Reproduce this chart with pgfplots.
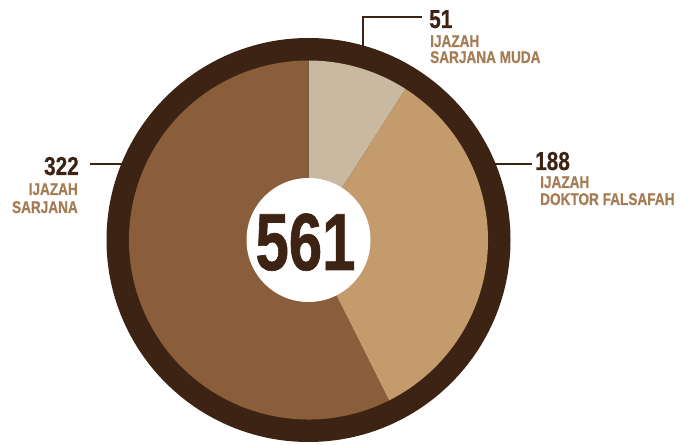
\documentclass[border=0pt]{standalone}
\usepackage{pgfplots}
\pgfplotsset{compat=1.18}
\usepackage{pgfplotstable}
\usepackage{fontspec}
\newfontfamily\labfont[FakeStretch=0.8,FakeBold=0.7]{Liberation Sans Bold}
\newfontfamily\numfont[FakeStretch=0.8,FakeBold=0.5]{Liberation Sans Bold}
\newfontfamily\bigfont[FakeStretch=0.74,FakeBold=0.8]{Liberation Sans Bold}
\definecolor{ring}{HTML}{3C2314}
\definecolor{cA}{HTML}{C8B9A0}
\definecolor{cB}{HTML}{C49B6D}
\definecolor{cC}{HTML}{8A5D3B}
\definecolor{labc}{HTML}{A67C55}
\pgfplotstableread{
label value
SarjanaMuda 51
DoktorFalsafah 188
Sarjana 322
}\piedata
\begin{document}
\begin{tikzpicture}
\pgfplotstablegetelem{0}{value}\of\piedata\edef\va{\pgfplotsretval}
\pgfplotstablegetelem{1}{value}\of\piedata\edef\vb{\pgfplotsretval}
\pgfplotstablegetelem{2}{value}\of\piedata\edef\vc{\pgfplotsretval}
\pgfmathsetmacro\tot{\va+\vb+\vc}
\pgfmathsetmacro\aA{90}
\pgfmathsetmacro\aB{90-360*(\va/\tot)}
\pgfmathsetmacro\aC{\aB-360*(\vb/\tot)}
\pgfmathsetmacro\aD{\aC-360*(\vc/\tot)}
\begin{axis}[scale only axis, width=681pt, height=444pt,
  xmin=0, xmax=681, ymin=0, ymax=444, hide axis, clip=false]
\addplot[draw=none] coordinates {(0,0) (681,444)};
\fill[ring] (axis cs:308.5,204) circle[radius=202pt];
\fill[cA] (axis cs:308.5,204) -- ++(\aA:179.5pt) arc[start angle=\aA, end angle=\aB, radius=179.5pt] -- cycle;
\fill[cB] (axis cs:308.5,204) -- ++(\aB:179.5pt) arc[start angle=\aB, end angle=\aC, radius=179.5pt] -- cycle;
\fill[cC] (axis cs:308.5,204) -- ++(\aC:179.5pt) arc[start angle=\aC, end angle=\aD, radius=179.5pt] -- cycle;
\fill[white] (axis cs:308.5,204) circle[radius=62pt];
% leader lines
\draw[ring, line width=1.3pt] (axis cs:363,398) -- (axis cs:363,427) -- (axis cs:422,427);
\draw[ring, line width=1.3pt] (axis cs:90,280) -- (axis cs:123,280);
\draw[ring, line width=1.3pt] (axis cs:495,280) -- (axis cs:532,280);
% labels
\node[anchor=base west, inner sep=0pt, text=ring, font=\numfont\fontsize{26}{26}\selectfont] at (axis cs:429,416) {\va};
\node[anchor=base west, inner sep=0pt, text=labc, font=\labfont\fontsize{17}{17}\selectfont] at (axis cs:430,397) {IJAZAH};
\node[anchor=base west, inner sep=0pt, text=labc, font=\labfont\fontsize{17}{17}\selectfont] at (axis cs:430,381) {SARJANA MUDA};
\node[anchor=base east, inner sep=0pt, text=ring, font=\numfont\fontsize{26}{26}\selectfont] at (axis cs:79,269) {\vc};
\node[anchor=base east, inner sep=0pt, text=labc, font=\labfont\fontsize{17}{17}\selectfont] at (axis cs:78,249) {IJAZAH};
\node[anchor=base east, inner sep=0pt, text=labc, font=\labfont\fontsize{17}{17}\selectfont] at (axis cs:78,231) {SARJANA};
\node[anchor=base west, inner sep=0pt, text=ring, font=\numfont\fontsize{26}{26}\selectfont] at (axis cs:535,274) {\vb};
\node[anchor=base west, inner sep=0pt, text=labc, font=\labfont\fontsize{17}{17}\selectfont] at (axis cs:540,256) {IJAZAH};
\node[anchor=base west, inner sep=0pt, text=labc, font=\labfont\fontsize{17}{17}\selectfont] at (axis cs:540,239) {DOKTOR FALSAFAH};
\node[anchor=base, inner sep=0pt, text=ring, font=\bigfont\fontsize{81}{81}\selectfont] at (axis cs:305.5,174) {561};
\end{axis}
\end{tikzpicture}
\end{document}
